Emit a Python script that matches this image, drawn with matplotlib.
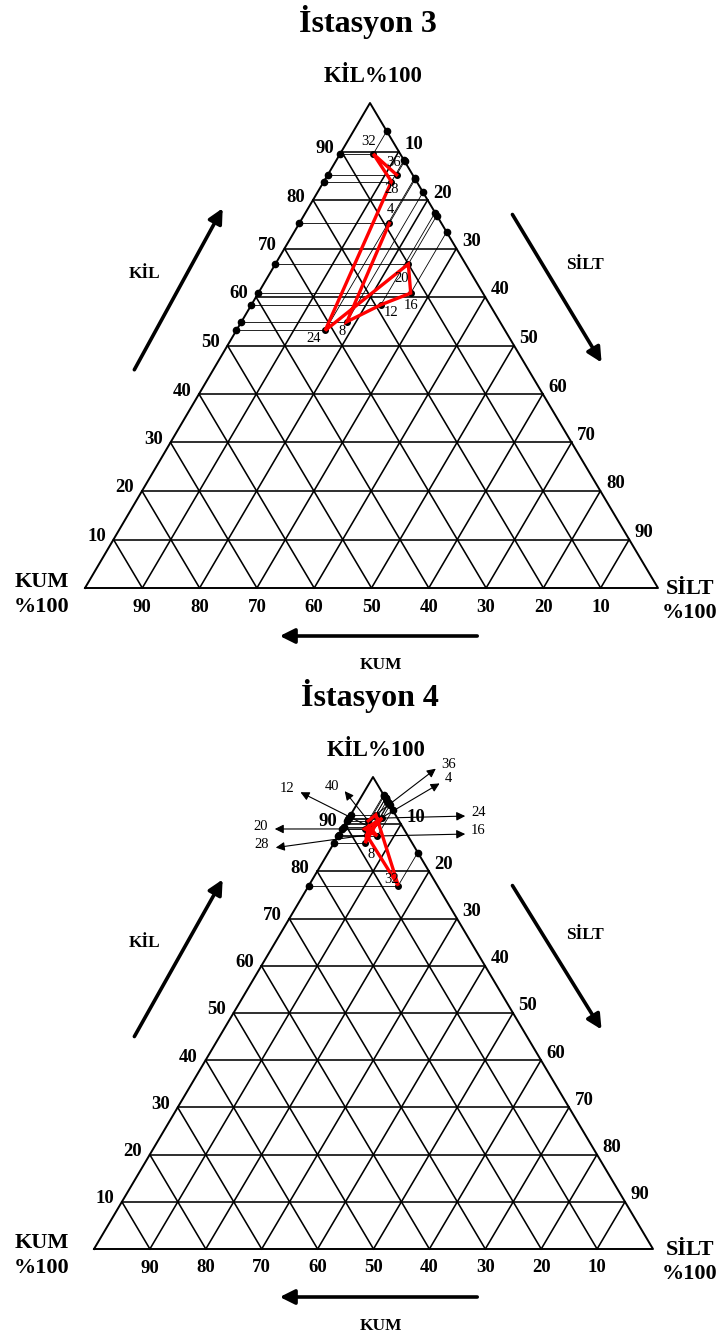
import numpy as np
import matplotlib.pyplot as plt

plt.rcParams['font.family'] = ['Liberation Serif', 'DejaVu Serif']

# sample times (labels) and soil fractions in percent
times3 = ['4', '8', '12', '16', '20', '24', '28', '32', '36']
clay3 = [75.2, 54.9, 58.4, 60.8, 66.8, 53.1, 83.8, 89.5, 85.2]
silt3 = [15.7, 18.4, 22.6, 26.6, 23.2, 15.5, 11.8, 5.8, 12.0]

times4 = ['4', '8', '12', '16', '20', '24', '28', '32', '36', '40']
clay4 = [91.0, 86.0, 89.5, 87.5, 89.0, 91.3, 87.7, 77.0, 92.0, 90.7]
silt4 = [5.5, 5.6, 4.5, 7.0, 4.0, 6.0, 5.0, 16.0, 4.5, 3.8]

ticks = [10, 20, 30, 40, 50, 60, 70, 80, 90]


def to_xy(tri, clay, silt):
    clay = np.asarray(clay, dtype=float) / 100
    silt = np.asarray(silt, dtype=float) / 100
    sand = 1 - clay - silt
    x = sand * tri['sand'][0] + silt * tri['silt'][0] + clay * tri['clay'][0]
    y = sand * tri['sand'][1] + silt * tri['silt'][1] + clay * tri['clay'][1]
    return x, y


def ciz_ucgen(ax, tri, baslik):
    A, B, C = tri['sand'], tri['silt'], tri['clay']
    ax.plot([A[0], B[0], C[0], A[0]], [A[1], B[1], C[1], A[1]], color='black', lw=1.4)
    for k in ticks:
        # sabit kil
        x, y = to_xy(tri, [k, k], [0, 100 - k])
        ax.plot(x, y, color='black', lw=1.15)
        # sabit silt
        x, y = to_xy(tri, [0, 100 - k], [k, k])
        ax.plot(x, y, color='black', lw=1.15)
        # sabit kum
        x, y = to_xy(tri, [0, 100 - k], [100 - k, 0])
        ax.plot(x, y, color='black', lw=1.15)
        # eksen yazilari
        x, y = to_xy(tri, k, 0)
        ax.text(x - 17, y - 3, str(k), ha='center', va='center', fontsize=13.5, fontweight='bold')
        x, y = to_xy(tri, 100 - k, k)
        ax.text(x + 15, y - 7, str(k), ha='center', va='center', fontsize=13.5, fontweight='bold')
        x, y = to_xy(tri, 0, 100 - k)
        ax.text(x, y + 19, str(k), ha='center', va='center', fontsize=13.5, fontweight='bold')

    top = C[1]
    ax.text((A[0] + B[0]) / 2 - 4, top - 81, baslik, ha='center', va='center', fontsize=23, fontweight='bold')
    ax.text(C[0] + 3, top - 27, 'KİL%100', ha='center', va='center', fontsize=16.5, fontweight='bold')
    ax.text(42, A[1] - 6, 'KUM', ha='center', va='center', fontsize=16, fontweight='bold')
    ax.text(42, A[1] + 19, '%100', ha='center', va='center', fontsize=16, fontweight='bold')
    ax.text(690, B[1] + 1, 'SİLT', ha='center', va='center', fontsize=16, fontweight='bold')
    ax.text(690, B[1] + 25, '%100', ha='center', va='center', fontsize=16, fontweight='bold')

    h = A[1] - C[1]
    ok = dict(arrowstyle='-|>', lw=2.6, color='black', mutation_scale=22)
    ax.annotate('', xy=(224, top + 0.212 * h), xytext=(133, top + 0.555 * h), arrowprops=ok)
    ax.text(145, top + 0.352 * h, 'KİL', ha='center', va='center', fontsize=12.5, fontweight='bold')
    ax.annotate('', xy=(603, top + 0.54 * h), xytext=(511, top + 0.225 * h), arrowprops=ok)
    ax.text(585, top + 0.334 * h, 'SİLT', ha='center', va='center', fontsize=12.5, fontweight='bold')
    ax.annotate('', xy=(277, A[1] + 48), xytext=(480, A[1] + 48), arrowprops=ok)
    ax.text(381, A[1] + 77, 'KUM', ha='center', va='center', fontsize=12.5, fontweight='bold')


def ciz_veri(ax, tri, clay, silt):
    px, py = to_xy(tri, clay, silt)
    lx, ly = to_xy(tri, clay, np.zeros(len(clay)))
    rx, ry = to_xy(tri, 100 - np.asarray(silt), silt)
    for i in range(len(clay)):
        ax.plot([lx[i], px[i]], [ly[i], py[i]], color='black', lw=0.6)
        ax.plot([px[i], rx[i]], [py[i], ry[i]], color='black', lw=0.6)
    ax.plot(lx, ly, 'o', color='black', ms=4.5)
    ax.plot(rx, ry, 'o', color='black', ms=4.5)
    ax.plot(px, py, 'o', color='black', ms=4)
    ax.plot(px, py, color='red', lw=2.4, solid_joinstyle='miter', zorder=5)
    return px, py


fig = plt.figure(figsize=(7.28, 13.34), dpi=100)
ax = fig.add_axes([0, 0, 1, 1])
ax.set_xlim(0, 728)
ax.set_ylim(1334, 0)
ax.axis('off')

tri3 = {'sand': (85, 588), 'silt': (658, 588), 'clay': (370, 103)}
tri4 = {'sand': (94, 1249), 'silt': (653, 1249), 'clay': (373, 777)}

ciz_ucgen(ax, tri3, 'İstasyon 3')
ciz_ucgen(ax, tri4, 'İstasyon 4')

px, py = ciz_veri(ax, tri3, clay3, silt3)
off3 = [(1, -14), (-5, 10), (10, 8), (0, 12), (-7, 14), (-12, 8), (0, 8), (-5, -12), (-3, -12)]
for i, t in enumerate(times3):
    ax.text(px[i] + off3[i][0], py[i] + off3[i][1], t, ha='center', va='center', fontsize=10.5, zorder=6)

px, py = ciz_veri(ax, tri4, clay4, silt4)
# ok ucu konumlari (etiketli noktalar)
uc4 = {'36': (438, 767), '4': (442, 782), '24': (468, 816), '16': (468, 834),
       '12': (298, 791), '40': (343, 789), '20': (272, 829), '28': (273, 848)}
for i, t in enumerate(times4):
    if t in uc4:
        hx, hy = uc4[t]
        ax.annotate('', xy=(hx, hy), xytext=(px[i], py[i]),
                    arrowprops=dict(arrowstyle='-|>', lw=0.8, color='black', mutation_scale=13), zorder=4)
        if hx > px[i]:
            ax.text(hx + 3, hy - 3, t, ha='left', va='center', fontsize=10.5)
        else:
            ax.text(hx - 4, hy - 3, t, ha='right', va='center', fontsize=10.5)
    elif t == '8':
        ax.text(px[i] + 6, py[i] + 11, t, ha='center', va='center', fontsize=10.5, zorder=6)
    else:
        ax.text(px[i] - 7, py[i] - 6, t, ha='center', va='center', fontsize=10.5, zorder=6)

fig.savefig('out.png', dpi=100)
